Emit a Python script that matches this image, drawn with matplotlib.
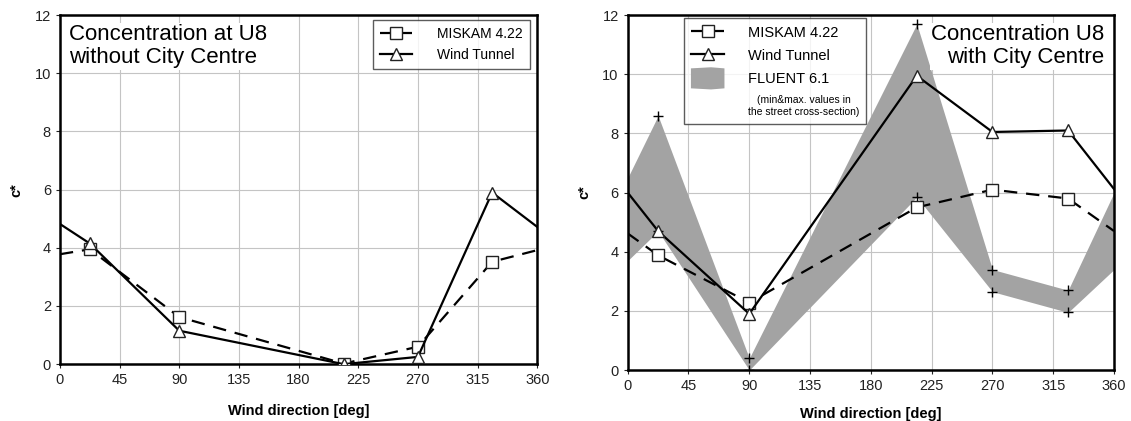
import numpy as np
import matplotlib.pyplot as plt
from matplotlib.lines import Line2D
from matplotlib.patches import Patch, Polygon
from matplotlib.legend_handler import HandlerPatch

plt.rcParams['font.family'] = ['Liberation Sans', 'DejaVu Sans']

# -----------------------------
# Datos
# -----------------------------
angles = [0, 22.5, 90, 214, 270, 326, 360]

# sin centro de ciudad
miskam_l = [3.78, 3.95, 1.62, 0.02, 0.60, 3.52, 3.92]
wt_l = [4.82, 4.15, 1.15, 0.00, 0.25, 5.90, 4.72]

# con centro de ciudad
miskam_r = [4.62, 3.88, 2.28, 5.50, 6.10, 5.80, 4.70]
wt_r = [6.00, 4.70, 1.90, 9.95, 8.05, 8.10, 6.12]
fluent_max = [6.50, 8.60, 0.40, 11.70, 3.40, 2.70, 6.00]
fluent_min = [3.70, 4.70, 0.00, 5.85, 2.65, 1.95, 3.40]

xticks = list(range(0, 361, 45))
yticks = list(range(0, 13, 2))

grey = '#a3a3a3'
inner = slice(1, 6)   # marcadores solo en los puntos medidos

fig = plt.figure(figsize=(11.31, 4.21), dpi=100)
ax1 = fig.add_axes([0.053, 0.135, 0.422, 0.829])
ax2 = fig.add_axes([0.555, 0.121, 0.430, 0.843])


def base(ax, pad):
    ax.set_xlim(0, 360)
    ax.set_ylim(0, 12)
    ax.set_xticks(xticks)
    ax.set_yticks(yticks)
    ax.grid(True, color='#c4c4c4', lw=0.8)
    ax.set_axisbelow(True)
    for s in ax.spines.values():
        s.set_linewidth(1.8)
        s.set_color('black')
    ax.tick_params(labelsize=10.5, length=3, width=0.8, colors='#222222')
    ax.set_xlabel('Wind direction [deg]', fontsize=10.5, fontweight='bold', labelpad=pad)
    ax.set_ylabel('c*', fontsize=10.5, fontweight='bold', labelpad=8)


def miskam(ax, y):
    return ax.plot(angles, y, color='black', lw=1.6, ls=(0, (6, 4)), marker='s',
                   markevery=inner, ms=8.5, mfc='white', mec='#222222', mew=1.0, zorder=4)[0]


def tunnel(ax, y):
    return ax.plot(angles, y, color='black', lw=1.6, marker='^', markevery=inner,
                   ms=9, mfc='white', mec='#222222', mew=1.0, zorder=5)[0]


def band_handle(legend, orig_handle, xdescent, ydescent, width, height, fontsize):
    x0, y0 = -xdescent, -ydescent
    h = height * 1.7
    yb = y0 + height / 2 - h / 2
    pts = [(x0, yb + 0.05 * h), (x0 + 0.6 * width, yb), (x0 + width, yb + 0.05 * h),
           (x0 + width, yb + 0.95 * h), (x0 + 0.6 * width, yb + h), (x0, yb + 0.95 * h)]
    return Polygon(pts, closed=True)


# -----------------------------
# Panel izquierdo
# -----------------------------
base(ax1, 12)
l1 = miskam(ax1, miskam_l)
l2 = tunnel(ax1, wt_l)
ax1.text(0.02, 0.975, 'Concentration at U8\nwithout City Centre', transform=ax1.transAxes,
         fontsize=16, va='top', ha='left', linespacing=1.15,
         bbox=dict(facecolor='white', edgecolor='none', pad=1), zorder=3)
leg1 = ax1.legend([l1, l2], ['MISKAM 4.22', 'Wind Tunnel'], loc='upper right',
                  bbox_to_anchor=(0.985, 0.986), borderaxespad=0, fontsize=10,
                  frameon=True, fancybox=False, edgecolor='#333333',
                  handlelength=2.3, handletextpad=1.8, borderpad=0.5, labelspacing=0.5)
leg1.get_frame().set_linewidth(1.0)
leg1.set_zorder(6)

# -----------------------------
# Panel derecho
# -----------------------------
base(ax2, 10)
ax2.fill_between(angles, fluent_min, fluent_max, color=grey, lw=0, zorder=2)
ax2.plot(angles[inner], fluent_max[inner], ls='none', marker='+', color='black',
         ms=7, mew=1.0, zorder=3)
ax2.plot(angles[inner], fluent_min[inner], ls='none', marker='+', color='black',
         ms=7, mew=1.0, zorder=3)
r1 = miskam(ax2, miskam_r)
r2 = tunnel(ax2, wt_r)
ax2.text(0.98, 0.975, 'Concentration U8\nwith City Centre', transform=ax2.transAxes,
         fontsize=16, va='top', ha='right', linespacing=1.15,
         bbox=dict(facecolor='white', edgecolor='none', pad=1), zorder=3)

blank = Line2D([], [], color='none')
patch = Patch(facecolor=grey, edgecolor='none')
leg2 = ax2.legend([r1, r2, patch, blank],
                  ['MISKAM 4.22', 'Wind Tunnel', 'FLUENT 6.1',
                   '(min&max. values in\nthe street cross-section)'],
                  handler_map={Patch: HandlerPatch(patch_func=band_handle)},
                  loc='upper left', bbox_to_anchor=(0.115, 0.992), borderaxespad=0,
                  fontsize=10.5, frameon=True, fancybox=False, edgecolor='#333333',
                  handlelength=2.3, handleheight=1.0, handletextpad=1.6,
                  borderpad=0.5, labelspacing=0.6)
leg2.get_frame().set_linewidth(1.0)
leg2.get_texts()[3].set_fontsize(7.5)
leg2.get_texts()[3].set_multialignment('center')
leg2.set_zorder(6)

plt.savefig('out.png', dpi=100)
